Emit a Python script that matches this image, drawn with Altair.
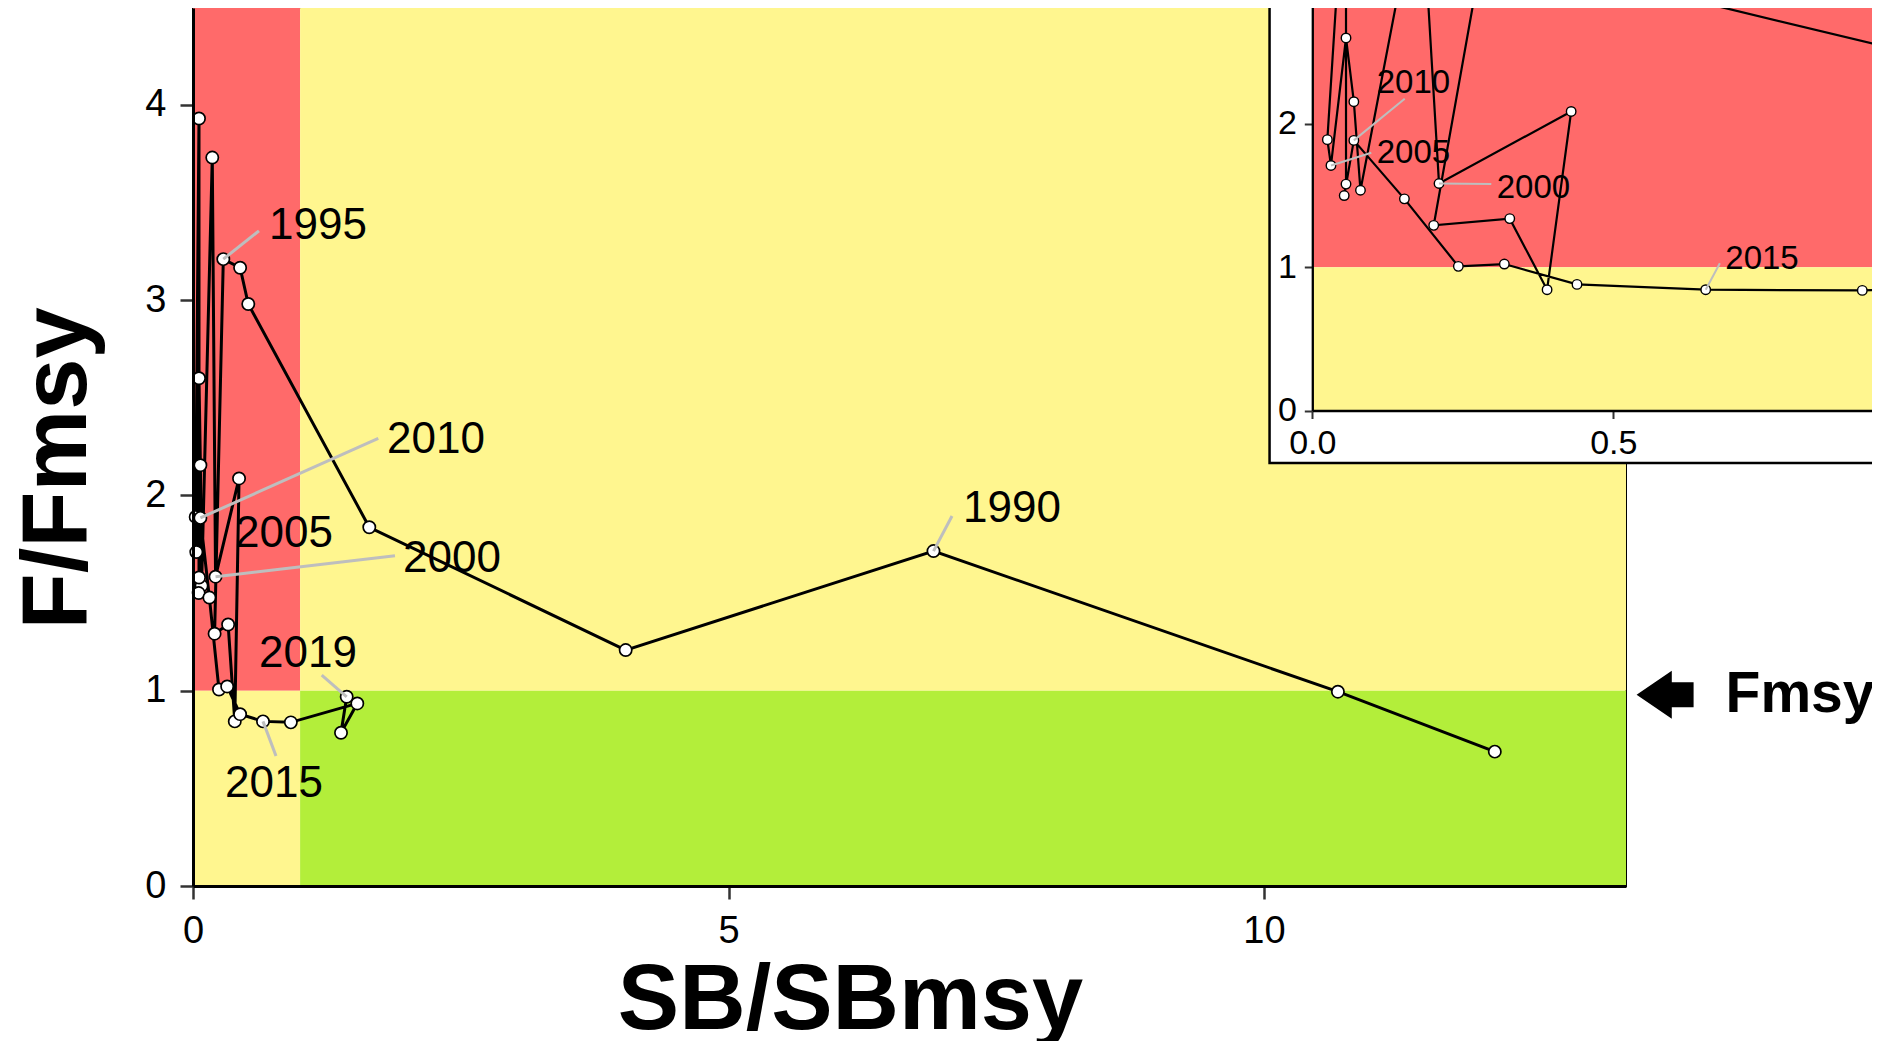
import altair as alt
import pandas as pd

# ---------------- data ----------------
years = list(range(1988, 2020))
sb = [12.155, 10.69, 6.914, 4.04, 1.646, 0.516, 0.44, 0.283, 0.2017, 0.328,
      0.390, 0.430, 0.2105, 0.18, 0.080, 0.069, 0.056, 0.031, 0.025, 0.056,
      0.056, 0.053, 0.069, 0.153, 0.2426, 0.319, 0.4397, 0.6535, 0.9136,
      1.534, 1.382, 1.435]
f = [0.688, 0.995, 1.715, 1.208, 1.837, 2.98, 3.166, 3.21, 1.292, 1.339,
     0.843, 2.087, 1.584, 3.73, 1.537, 2.155, 2.60, 1.71, 1.89, 3.93,
     1.58, 1.50, 1.885, 1.477, 1.006, 1.022, 0.880, 0.843, 0.838,
     0.935, 0.785, 0.969]

zone_name = ["red", "yellow_top", "yellow_bottom", "green"]
zone_x1 = [0, 1, 0, 1]
zone_x2 = [1, 100, 1, 100]
zone_y1 = [1, 1, 0, 0]
zone_y2 = [100, 100, 1, 1]
zone_colors = ["#FF6A6A", "#FFF68F", "#FFF68F", "#B3EE3A"]

main_label_year = [1990, 1995, 2000, 2005, 2010, 2015, 2019]
main_label_x = [7.647, 1.167, 2.418, 0.85, 2.269, 0.756, 1.074]
main_label_y = [1.946, 3.397, 1.688, 1.818, 2.299, 0.538, 1.203]
main_leader_year = [1990, 1995, 2000, 2010, 2015, 2019]
main_leader_x = [7.087, 0.616, 1.886, 1.730, 0.775, 1.202]
main_leader_y = [1.895, 3.355, 1.691, 2.292, 0.666, 1.080]

inset_label_year = [2000, 2005, 2010, 2015]
inset_label_x = [0.3674, 0.168, 0.168, 0.747]
inset_label_y = [1.567, 1.811, 2.299, 1.071]
inset_leader_x = [0.2973, 0.098, 0.1535, 0.677]
inset_leader_y = [1.581, 1.799, 2.176, 1.027]

inset_frame_x = [-0.071, 3.0]
inset_frame_y = [-0.366, 6.0]

ref_label = ["Fmsy"]
ref_arrow_x = [13.745]
ref_text_x = [14.31]
ref_y = [1.0]

# ---------------- tables ----------------
traj = pd.DataFrame({"year": years, "sb": sb, "f": f})
zones = pd.DataFrame({"zone": zone_name, "x1": zone_x1, "x2": zone_x2,
                      "y1": zone_y1, "y2": zone_y2})
mlab = pd.DataFrame({"year": main_label_year, "lx": main_label_x, "ly": main_label_y})
mlab["txt"] = mlab["year"].astype(str)
mlead = pd.DataFrame({"year": main_leader_year, "lx": main_leader_x,
                      "ly": main_leader_y}).merge(traj, on="year")
ilab = pd.DataFrame({"year": inset_label_year, "lx": inset_label_x, "ly": inset_label_y})
ilab["txt"] = ilab["year"].astype(str)
ilead = pd.DataFrame({"year": inset_label_year, "lx": inset_leader_x,
                      "ly": inset_leader_y}).merge(traj, on="year")
frame = pd.DataFrame({"x1": [inset_frame_x[0]], "x2": [inset_frame_x[1]],
                      "y1": [inset_frame_y[0]], "y2": [inset_frame_y[1]]})
ref = pd.DataFrame({"label": ref_label, "ax": ref_arrow_x, "tx": ref_text_x, "y": ref_y})

FONT = "Liberation Sans"
zone_color = alt.Color("zone:N", scale=alt.Scale(domain=zone_name, range=zone_colors),
                       legend=None)

# ---------------- main panel ----------------
W, H = 1433, 878
mx_scale = alt.Scale(domain=[0, 13.38], nice=False, zero=False)
my_scale = alt.Scale(domain=[0, 4.496], nice=False, zero=False)

mx_axis = alt.Axis(values=[0, 5, 10], title="SB/SBmsy", titleX=657, titleY=142,
                   titleAlign="center", titleBaseline="alphabetic", titleFontSize=92,
                   titleFont=FONT, titleFontWeight="bold", titleColor="black",
                   labelFontSize=38, labelFont=FONT, labelColor="black", labelPadding=13,
                   labelFlush=False, tickSize=13, tickWidth=2.5, tickColor="#333333",
                   domainColor="black", domainWidth=3, grid=False, zindex=1)
my_axis = alt.Axis(values=[0, 1, 2, 3, 4], title="F/Fmsy", titleX=-108, titleY=460,
                   titleAngle=270, titleAlign="center", titleBaseline="alphabetic",
                   titleFontSize=92, titleFont=FONT, titleFontWeight="bold",
                   titleColor="black", labelFontSize=38, labelFont=FONT,
                   labelColor="black", labelPadding=14, labelFlush=False, tickSize=13,
                   tickWidth=2.5, tickColor="#333333", domainColor="black",
                   domainWidth=3, grid=False, zindex=1)


def MX(field):
    return alt.X(field, type="quantitative", scale=mx_scale, axis=mx_axis)


def MY(field):
    return alt.Y(field, type="quantitative", scale=my_scale, axis=my_axis)


m_zones = alt.Chart(zones).mark_rect(clip=True, opacity=1).encode(
    x=MX("x1"), x2="x2", y=MY("y1"), y2="y2", color=zone_color)
m_line = alt.Chart(traj).mark_line(color="black", strokeWidth=3).encode(
    x=MX("sb"), y=MY("f"), order=alt.Order("year:Q"))
m_pts = alt.Chart(traj).mark_circle(color="white", stroke="black", strokeWidth=1.7,
                                    size=150, opacity=1).encode(x=MX("sb"), y=MY("f"))
m_lead = alt.Chart(mlead).mark_rule(color="#BEBEBE", strokeWidth=3).encode(
    x=MX("sb"), y=MY("f"), x2="lx", y2="ly")
m_text = alt.Chart(mlab).mark_text(font=FONT, fontSize=44, color="black",
                                   align="center", baseline="middle", dy=3).encode(
    x=MX("lx"), y=MY("ly"), text="txt:N")
m_arrow = alt.Chart(ref).mark_point(
    shape="M -1 0 L 0.235 -0.84 L 0.235 -0.44 L 1 -0.44 L 1 0.44 L 0.235 0.44 L 0.235 0.84 Z",
    filled=True, color="black", opacity=1, size=3249, yOffset=4).encode(
    x=MX("ax"), y=MY("y"))
m_ref = alt.Chart(ref).mark_text(font=FONT, fontSize=57, fontWeight="bold", color="black",
                                 align="left", baseline="middle", dy=4).encode(
    x=MX("tx"), y=MY("y"), text="label:N")

main = alt.layer(m_zones, m_line, m_pts, m_lead, m_text, m_arrow, m_ref)

# ---------------- inset panel ----------------
ix_scale = alt.Scale(domain=[0, 1.3], range=[1119.3, 1119.3 + 602 * 1.3], nice=False, zero=False)
iy_scale = alt.Scale(domain=[0, 3.2], range=[402.5, 402.5 - 143.3 * 3.2], nice=False, zero=False)

ix_axis = alt.Axis(values=[0, 0.5], format=".1f", orient="bottom", offset=-475.5,
                   title="", labelFontSize=34, labelFont=FONT, labelColor="black",
                   labelPadding=8, labelFlush=False, tickSize=8, tickWidth=2,
                   tickColor="#333333", domainColor="black", domainWidth=2.3,
                   grid=False, zindex=1)
iy_axis = alt.Axis(values=[0, 1, 2], format="d", orient="left", offset=-1119.3,
                   title="", labelFontSize=34, labelFont=FONT, labelColor="black",
                   labelPadding=8, labelFlush=False, tickSize=8, tickWidth=2,
                   tickColor="#333333", domainColor="black", domainWidth=2.3,
                   grid=False, zindex=1)


def IX(field):
    return alt.X(field, type="quantitative", scale=ix_scale, axis=ix_axis)


def IY(field):
    return alt.Y(field, type="quantitative", scale=iy_scale, axis=iy_axis)


i_frame = alt.Chart(frame).mark_rect(fill="white", stroke="black", strokeWidth=2.5,
                                     opacity=1).encode(
    x=IX("x1"), x2="x2", y=IY("y1"), y2="y2")
i_zones = alt.Chart(zones).mark_rect(opacity=1).encode(
    x=IX("x1"), x2="x2", y=IY("y1"), y2="y2", color=zone_color)
i_line = alt.Chart(traj).mark_line(color="black", strokeWidth=2.2).encode(
    x=IX("sb"), y=IY("f"), order=alt.Order("year:Q"))
i_pts = alt.Chart(traj).mark_circle(color="white", stroke="black", strokeWidth=1.4,
                                    size=90, opacity=1).encode(x=IX("sb"), y=IY("f"))
i_lead = alt.Chart(ilead).mark_rule(color="#BEBEBE", strokeWidth=2).encode(
    x=IX("sb"), y=IY("f"), x2="lx", y2="ly")
i_text = alt.Chart(ilab).mark_text(font=FONT, fontSize=33, color="black",
                                   align="center", baseline="middle", dy=2).encode(
    x=IX("lx"), y=IY("ly"), text="txt:N")

inset = alt.layer(i_frame, i_zones, i_line, i_pts, i_lead, i_text)

chart = alt.layer(main, inset).resolve_scale(x="independent", y="independent").properties(
    width=W, height=H,
    padding={"left": 185, "top": 0, "right": 246, "bottom": 155},
    autosize=alt.AutoSizeParams(type="none"),
    background="white",
).configure_view(stroke="black", strokeWidth=2)

chart.save("out.html", embed_options={"renderer": "svg", "actions": False})
